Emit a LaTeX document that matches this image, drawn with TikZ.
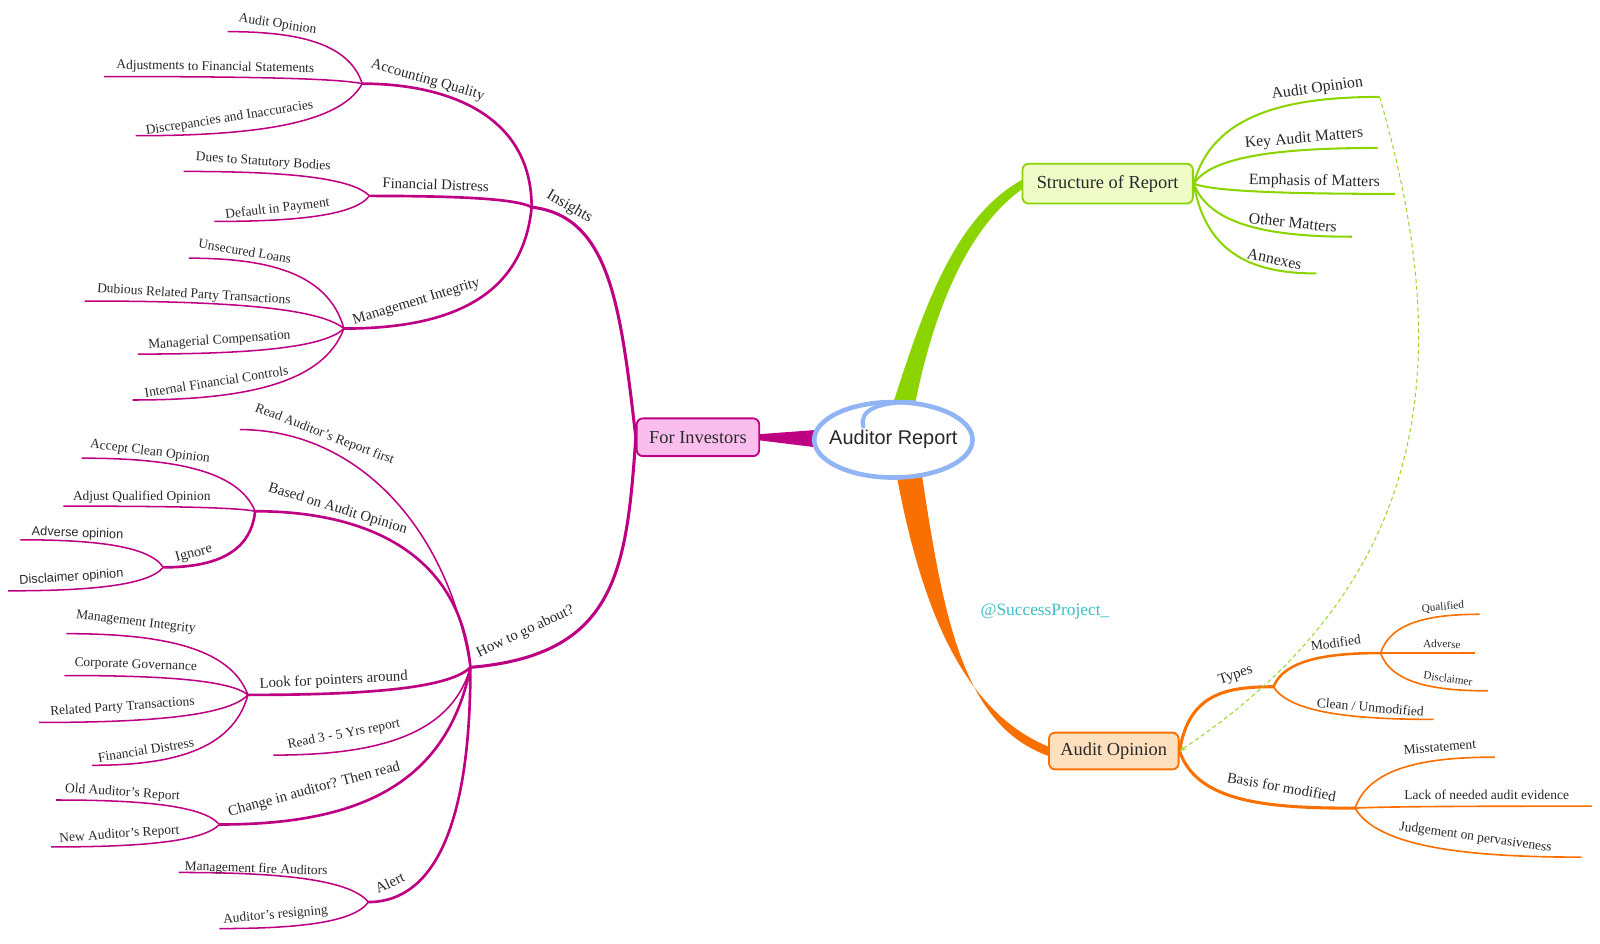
\documentclass[tikz,border=0pt]{standalone}
\usepackage{fontspec}
\setmainfont{Liberation Serif}
\newfontfamily\sansf{Liberation Sans}
\usetikzlibrary{calc,arrows.meta,shapes.geometric}
\definecolor{mag}{RGB}{190,0,130}
\definecolor{magfill}{RGB}{250,190,238}
\definecolor{grn}{RGB}{140,212,0}
\definecolor{grnd}{RGB}{150,215,40}
\definecolor{grnfill}{RGB}{240,252,200}
\definecolor{org}{RGB}{250,112,0}
\definecolor{orgfill}{RGB}{254,224,190}
\definecolor{blu}{RGB}{145,180,245}
\definecolor{txt}{RGB}{40,40,40}
\definecolor{wmk}{RGB}{60,190,195}
\pgfdeclarelayer{bg}
\pgfsetlayers{bg,main}
\newcommand\br[5]{%
  \draw[#1] let \p1=(#2), \p2=(#3) in (#2) .. controls ({\x1+#4*(\x2-\x1)},{\y1+#5*(\y2-\y1)}) and ({\x1+0.5*(\x2-\x1)},\y2) .. (#3);}
\tikzset{
  fs/.style={font=\fontsize{#1}{#1}\selectfont, text=txt, inner sep=0pt},
  lf/.style={fs=13.2},
  lfm/.style={fs=14.5},
  lfb/.style={fs=15.5},
  lfs/.style={fs=11},
  lfsans/.style={font=\sansf\fontsize{12.5}{12.5}\selectfont, text=txt, inner sep=0pt},
  box/.style={draw=#1, line width=1.8pt, rounded corners=6pt, font=\fontsize{18}{18}\selectfont, text=txt, inner sep=0pt},
  mL/.style={mag, line width=3pt},
  mM/.style={mag, line width=2.6pt},
  mS/.style={mag, line width=1.5pt},
  gS/.style={grn, line width=2pt},
  oL/.style={org, line width=3pt},
  oM/.style={org, line width=2.5pt},
  oS/.style={org, line width=1.6pt},
}
\begin{document}
\begin{tikzpicture}[x=1pt,y=-1pt]
\useasboundingbox (0,0) rectangle (1568,925);
% ---------- boxes ----------
\node[box=mag, fill=magfill, minimum width=120, minimum height=37] (inv) at (684,428.5) {For Investors};
\node[box=grn, fill=grnfill, minimum width=167, minimum height=39] (sr) at (1085.5,180) {Structure of Report};
\node[box=org, fill=orgfill, minimum width=127, minimum height=36] (ao) at (1091.5,736) {Audit Opinion};
% ---------- coordinates ----------
\coordinate (jIns) at (521,203);
\coordinate (jAQ) at (355,82);
\coordinate (jFD) at (362,192);
\coordinate (jMI) at (337,322);
\coordinate (eAO) at (223,31);
\coordinate (eAdj) at (102,75);
\coordinate (eDis) at (133,133);
\coordinate (eDues) at (180,168);
\coordinate (eDef) at (210,217);
\coordinate (eUL) at (185,253);
\coordinate (eDRP) at (83,295);
\coordinate (eMC) at (135,347);
\coordinate (eIFC) at (130,392);
\coordinate (jHow) at (461,654);
\coordinate (eRAR) at (235,421);
\coordinate (jBAO) at (250,501);
\coordinate (eACO) at (80,449);
\coordinate (eAQO) at (62,496);
\coordinate (jIgn) at (160,556);
\coordinate (eAdv) at (20,529);
\coordinate (eDisc) at (8,579);
\coordinate (jLFP) at (243,681);
\coordinate (eMI2) at (65,621);
\coordinate (eCG) at (63,662);
\coordinate (eRPT) at (38,708);
\coordinate (eFD2) at (90,750);
\coordinate (eR35) at (268,740);
\coordinate (jCIA) at (215,808);
\coordinate (eOAR) at (55,784);
\coordinate (eNAR) at (50,830);
\coordinate (jAl) at (361,884);
\coordinate (eMFA) at (175,855);
\coordinate (eAR) at (215,910);
\coordinate (eAO2) at (1352,95);
\coordinate (eKAM) at (1350,145);
\coordinate (eEM) at (1367,190);
\coordinate (eOM) at (1325,232);
\coordinate (eAnx) at (1290,268);
\coordinate (jTyp) at (1248,673);
\coordinate (jMod) at (1353,640);
\coordinate (eClean) at (1405,705);
\coordinate (eQ) at (1450,602);
\coordinate (eAdv2) at (1445,640);
\coordinate (eDisc2) at (1458,677);
\coordinate (jBas) at (1328,792);
\coordinate (eMis) at (1465,742);
\coordinate (eLack) at (1560,790);
\coordinate (eJud) at (1550,840);
% ---------- connectors ----------
\begin{pgfonlayer}{bg}
% main tapered connectors
\fill[grn] (872,405) .. controls (900,320) and (930,215) .. ($(sr.west)+(1,-4)$) -- ($(sr.west)+(1,5)$) .. controls (942,228) and (911,320) .. (895,405) -- cycle;
\fill[org] (878,462) .. controls (905,610) and (950,700) .. ($(ao.west)+(1,-4)$) -- ($(ao.west)+(1,5)$) .. controls (945,712) and (925,610) .. (903,462) -- cycle;
\fill[mag] ($(inv.east)+(-1,-3)$) -- (805,421) -- (805,439) -- ($(inv.east)+(-1,3)$) -- cycle;
% insights
\draw[mL] (inv.west) .. controls (608,300) and (598,212) .. (jIns);
\br{mM}{jIns}{jAQ}{0}{0.75}
\br{mM}{jIns}{jFD}{0.1}{0.8}
\br{mM}{jIns}{jMI}{0.05}{0.8}
\br{mS}{jAQ}{eAO}{0.1}{0.8}
\br{mS}{jAQ}{eAdj}{0.1}{0.8}
\br{mS}{jAQ}{eDis}{0.1}{0.8}
\br{mS}{jFD}{eDues}{0.1}{0.8}
\br{mS}{jFD}{eDef}{0.1}{0.8}
\br{mS}{jMI}{eUL}{0.1}{0.8}
\br{mS}{jMI}{eDRP}{0.1}{0.8}
\br{mS}{jMI}{eMC}{0.1}{0.8}
\br{mS}{jMI}{eIFC}{0.1}{0.8}
% how to go about
\draw[mL] (inv.west) .. controls (614,560) and (604,642) .. (jHow);
\br{mS}{jHow}{eRAR}{0.1}{0.6}
\br{mM}{jHow}{jBAO}{0.05}{0.75}
\br{mM}{jHow}{jLFP}{0.1}{0.8}
\br{mS}{jHow}{eR35}{0.1}{0.8}
\br{mM}{jHow}{jCIA}{0.1}{0.8}
\br{mM}{jHow}{jAl}{0}{0.8}
\br{mS}{jBAO}{eACO}{0.1}{0.8}
\br{mS}{jBAO}{eAQO}{0.1}{0.8}
\br{mM}{jBAO}{jIgn}{0.05}{0.8}
\br{mS}{jIgn}{eAdv}{0.1}{0.8}
\br{mS}{jIgn}{eDisc}{0.1}{0.8}
\br{mS}{jLFP}{eMI2}{0.1}{0.8}
\br{mS}{jLFP}{eCG}{0.1}{0.8}
\br{mS}{jLFP}{eRPT}{0.1}{0.8}
\br{mS}{jLFP}{eFD2}{0.1}{0.8}
\br{mS}{jCIA}{eOAR}{0.1}{0.8}
\br{mS}{jCIA}{eNAR}{0.1}{0.8}
\br{mS}{jAl}{eMFA}{0.1}{0.8}
\br{mS}{jAl}{eAR}{0.1}{0.8}
% structure of report
\br{gS}{sr.east}{eAO2}{0.1}{0.8}
\br{gS}{sr.east}{eKAM}{0.1}{0.8}
\br{gS}{sr.east}{eEM}{0.1}{0.8}
\br{gS}{sr.east}{eOM}{0.1}{0.8}
\br{gS}{sr.east}{eAnx}{0.1}{0.8}
% audit opinion
\br{oL}{ao.east}{jTyp}{0.1}{0.9}
\br{oL}{ao.east}{jBas}{0.1}{0.9}
\br{oM}{jTyp}{jMod}{0.1}{0.8}
\br{oS}{jTyp}{eClean}{0.1}{0.8}
\br{oS}{jMod}{eQ}{0.1}{0.8}
\br{oS}{jMod}{eAdv2}{0.1}{0.8}
\br{oS}{jMod}{eDisc2}{0.1}{0.8}
\br{oS}{jBas}{eMis}{0.1}{0.8}
\br{oS}{jBas}{eLack}{0.1}{0.8}
\br{oS}{jBas}{eJud}{0.1}{0.8}
\end{pgfonlayer}
% dashed relation
\draw[grnd, line width=1pt, dash pattern=on 4pt off 3pt, -{Stealth[length=6pt,width=5pt]}] (eAO2) .. controls (1420,330) and (1420,560) .. (ao.east);
% ---------- central topic ----------
\node[ellipse, draw=blu, line width=4.5pt, fill=white, minimum width=154, minimum height=74, inner xsep=-8pt, inner ysep=0pt, font=\sansf\fontsize{19.5}{19.5}\selectfont, text=txt] (ctr) at (875.5,431) {Auditor Report};
\draw[blu, line width=4pt, line cap=round] (846,418) .. controls (842,402) and (860,394) .. (895,394);
% ---------- labels: insights ----------
\node[lf, rotate=-9] (tAO) at (272,24) {Audit Opinion};
\node[lf, rotate=-1] (tAdj) at (211,66) {Adjustments to Financial Statements};
\node[lf, rotate=9] (tDis) at (225,116) {Discrepancies and Inaccuracies};
\node[lfm, rotate=-16] (tAQ) at (419,79) {Accounting Quality};
\node[lf, rotate=-4] (tDues) at (258,159) {Dues to Statutory Bodies};
\node[lf, rotate=7] (tDef) at (272,205) {Default in Payment};
\node[lfm, rotate=-2] (tFD) at (427,181) {Financial Distress};
\node[lfb, rotate=-30] (tIns) at (558,203) {Insights};
\node[lf, rotate=-10] (tUL) at (240,246) {Unsecured Loans};
\node[lf, rotate=-3.5] (tDRP) at (190,289) {Dubious Related Party Transactions};
\node[lf, rotate=4] (tMC) at (215,334) {Managerial Compensation};
\node[lf, rotate=9] (tIFC) at (212,374) {Internal Financial Controls};
\node[lfm, rotate=17] (tMI) at (408,296) {Management Integrity};
% ---------- labels: how to go about ----------
\node[lf, rotate=-21] (tRAR) at (318,426) {Read Auditor's Report first};
\node[lf, rotate=-7] (tACO) at (147,443) {Accept Clean Opinion};
\node[lf] (tAQO) at (139,487) {Adjust Qualified Opinion};
\node[lfsans, rotate=-2] (tAdv) at (76,523) {Adverse opinion};
\node[fs=14, rotate=15] (tIgn) at (190,543) {Ignore};
\node[lfsans, rotate=4] (tDisc) at (70,566) {Disclaimer opinion};
\node[lfm, rotate=-17] (tBAO) at (331,499) {Based on Audit Opinion};
\node[lf, rotate=-7] (tMI2) at (133,610) {Management Integrity};
\node[lf, rotate=-2] (tCG) at (133,652) {Corporate Governance};
\node[lf, rotate=4] (tRPT) at (120,693) {Related Party Transactions};
\node[lf, rotate=9] (tFD2) at (143,735) {Financial Distress};
\node[lfm, rotate=3] (tLFP) at (327,667) {Look for pointers around};
\node[lfm, rotate=25] (tHow) at (515,619) {How to go about?};
\node[lf, rotate=11] (tR35) at (337,720) {Read 3 - 5 Yrs report};
\node[lf, rotate=-4] (tOAR) at (120,777) {Old Auditor's Report};
\node[lf, rotate=4] (tNAR) at (117,818) {New Auditor's Report};
\node[lfm, rotate=15] (tCIA) at (308,774) {Change in auditor? Then read};
\node[lf, rotate=-2] (tMFA) at (251,852) {Management fire Auditors};
\node[lf, rotate=5] (tAR) at (270,897) {Auditor's resigning};
\node[lfm, rotate=25] (tAl) at (382,865) {Alert};
% ---------- labels: structure ----------
\node[lfb, rotate=8] (tAO2) at (1291,87) {Audit Opinion};
\node[lfb, rotate=5] (tKAM) at (1278,136) {Key Audit Matters};
\node[lfb, rotate=-1] (tEM) at (1288,178) {Emphasis of Matters};
\node[lfb, rotate=-6] (tOM) at (1267,218) {Other Matters};
\node[lfb, rotate=-12] (tAnx) at (1249,254) {Annexes};
% ---------- labels: audit opinion ----------
\node[lfm, rotate=18] (tTyp) at (1211,662) {Types};
\node[lf, rotate=8] (tMod) at (1309,630) {Modified};
\node[lf, rotate=-5] (tClean) at (1343,693) {Clean / Unmodified};
\node[lfs, rotate=5] (tQ) at (1414,595) {Qualified};
\node[lfs, rotate=-2] (tAdv2) at (1413,631) {Adverse};
\node[lfs, rotate=-8] (tDisc2) at (1419,665) {Disclaimer};
\node[lfm, rotate=-10] (tBas) at (1256,771) {Basis for modified};
\node[lf, rotate=5] (tMis) at (1411,732) {Misstatement};
\node[lf] (tLack) at (1457,779) {Lack of needed audit evidence};
\node[lf, rotate=-8] (tJud) at (1446,821) {Judgement on pervasiveness};
% ---------- watermark ----------
\node[font=\fontsize{17}{17}\selectfont, text=wmk, inner sep=0pt] (wm) at (1024,599) {@SuccessProject\_};
\end{tikzpicture}
\end{document}
